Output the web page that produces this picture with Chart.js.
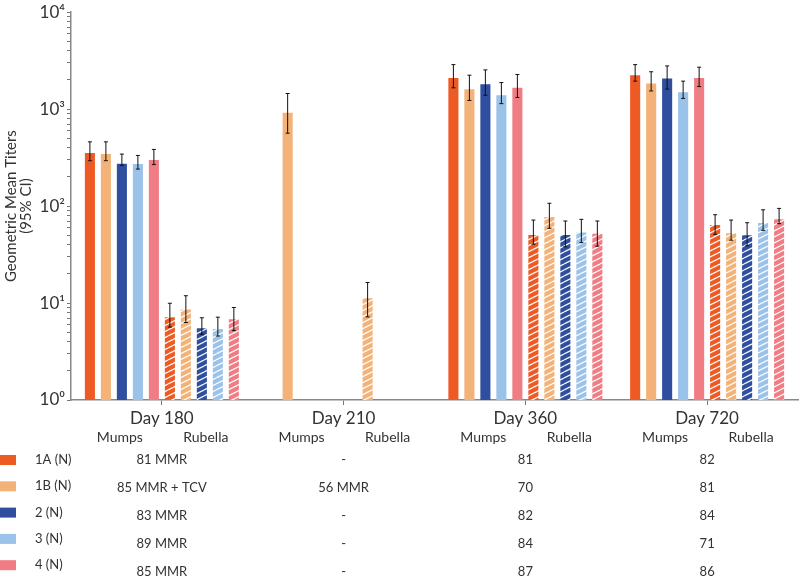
<!DOCTYPE html>
<html>
<head>
<meta charset="utf-8">
<script src="https://cdn.jsdelivr.net/npm/chart.js@4"></script>
<style>
  body { margin: 0; background: #fff; }
</style>
</head>
<body>
<canvas id="chart" width="800" height="577"></canvas>
<script>
const days = ["Day 180", "Day 210", "Day 360", "Day 720"];
const groups = ["1A (N)", "1B (N)", "2 (N)", "3 (N)", "4 (N)"];
const groupColors = ["#ee5a24", "#f3b277", "#2f4e9e", "#9bc2e8", "#f07c84"];

// geometric mean titers, one row per group, one column per day
const mumpsGmt = [
  [352, null, 2100, 2240],
  [344, 920, 1600, 1840],
  [274, null, 1810, 2070],
  [272, null, 1390, 1490],
  [298, null, 1660, 2090]
];
const mumpsLow = [
  [294, null, 1660, 1945],
  [294, 565, 1230, 1540],
  [263, null, 1390, 1610],
  [241, null, 1140, 1290],
  [268, null, 1320, 1710]
];
const mumpsHigh = [
  [460, null, 2880, 2880],
  [460, 1450, 2240, 2430],
  [344, null, 2540, 2790],
  [333, null, 1880, 1945],
  [384, null, 2280, 2710]
];
const rubellaGmt = [
  [7.15, null, 50.4, 63.8],
  [8.6, 11.2, 77, 52.5],
  [5.5, null, 50.4, 50],
  [5.4, null, 53.3, 66.9],
  [6.8, null, 52, 73]
];
const rubellaLow = [
  [5.65, null, 40.5, 51.2],
  [6.3, 7.2, 59, 44.5],
  [4.75, null, 38, 38.9],
  [4.57, null, 42, 56.3],
  [5.2, null, 38.6, 65.9]
];
const rubellaHigh = [
  [9.95, null, 71.8, 81.5],
  [11.9, 16.3, 107, 71.8],
  [7.05, null, 70.2, 67.4],
  [7.15, null, 73, 91.6],
  [9.0, null, 70.2, 94.7]
];

// N per group under each day
const nDay180 = ["81 MMR", "85 MMR + TCV", "83 MMR", "89 MMR", "85 MMR"];
const nDay210 = ["-", "56 MMR", "-", "-", "-"];
const nDay360 = ["81", "70", "82", "84", "87"];
const nDay720 = ["82", "81", "84", "71", "86"];
const nTable = [nDay180, nDay210, nDay360, nDay720];

const yTicks = [1, 10, 100, 1000, 10000];
const sup = ["\u2070", "\u00b9", "\u00b2", "\u00b3", "\u2074"];

const FONT = "Lato, 'Open Sans', sans-serif";
const TXT = "#333";

function hatch(color) {
  const c = document.createElement("canvas");
  c.width = 12; c.height = 6;
  const g = c.getContext("2d");
  g.fillStyle = color;
  g.fillRect(0, 0, 12, 6);
  g.strokeStyle = "rgba(255,255,255,0.95)";
  g.lineWidth = 1.3;
  for (const off of [-6, 0, 6]) {
    g.beginPath();
    g.moveTo(0, 6 + off);
    g.lineTo(12, 0 + off);
    g.stroke();
  }
  return g.createPattern(c, "repeat");
}

const datasets = [];
groups.forEach((g, i) => {
  datasets.push({
    label: g + " Mumps",
    data: mumpsGmt[i],
    low: mumpsLow[i],
    high: mumpsHigh[i],
    backgroundColor: groupColors[i]
  });
});
groups.forEach((g, i) => {
  datasets.push({
    label: g + " Rubella",
    data: rubellaGmt[i],
    low: rubellaLow[i],
    high: rubellaHigh[i],
    backgroundColor: hatch(groupColors[i])
  });
});

const errorBars = {
  id: "errorBars",
  afterDatasetsDraw(chart) {
    const ctx = chart.ctx;
    const y = chart.scales.y;
    ctx.save();
    ctx.strokeStyle = "#111";
    ctx.lineWidth = 1;
    chart.data.datasets.forEach((ds, i) => {
      chart.getDatasetMeta(i).data.forEach((bar, j) => {
        if (ds.data[j] == null) return;
        const x = bar.x;
        const top = y.getPixelForValue(ds.high[j]);
        const bot = y.getPixelForValue(ds.low[j]);
        ctx.beginPath();
        ctx.moveTo(x, top); ctx.lineTo(x, bot);
        ctx.moveTo(x - 2, top); ctx.lineTo(x + 2, top);
        ctx.moveTo(x - 2, bot); ctx.lineTo(x + 2, bot);
        ctx.stroke();
      });
    });
    ctx.restore();
  }
};

const tableBelow = {
  id: "tableBelow",
  afterDraw(chart) {
    const ctx = chart.ctx;
    const x = chart.scales.x;
    ctx.save();
    ctx.fillStyle = TXT;
    ctx.textAlign = "center";
    ctx.textBaseline = "middle";
    days.forEach((d, i) => {
      const cx = x.getPixelForValue(i);
      ctx.font = "17px " + FONT;
      ctx.fillText(d, cx, 419);
      ctx.font = "14px " + FONT;
      ctx.fillText("Mumps", cx - 42, 437);
      ctx.fillText("Rubella", cx + 44, 437);
      ctx.font = "13px " + FONT;
      nTable[i].forEach((t, r) => {
        ctx.fillText(t, cx, 460 + r * 28);
      });
    });
    ctx.textAlign = "left";
    ctx.font = "13px " + FONT;
    groups.forEach((g, r) => {
      const cy = 460 + r * 26.3;
      ctx.fillStyle = groupColors[r];
      ctx.fillRect(0, cy - 5, 16, 10);
      ctx.fillStyle = TXT;
      ctx.fillText(g, 35, cy);
    });
    ctx.restore();
  }
};

new Chart(document.getElementById("chart"), {
  type: "bar",
  data: { labels: days, datasets },
  options: {
    responsive: false,
    animation: false,
    layout: { padding: { top: 10, right: 2, left: 0, bottom: 0 } },
    datasets: {
      bar: { categoryPercentage: 0.88, barPercentage: 0.63 }
    },
    plugins: { legend: { display: false }, tooltip: { enabled: false } },
    scales: {
      x: {
        ticks: { display: false },
        grid: {
          offset: false,
          drawOnChartArea: false,
          tickLength: 5,
          tickColor: "#777"
        },
        border: { color: "#888", width: 1.5 },
        afterFit(s) { s.height = 177; }
      },
      y: {
        type: "logarithmic",
        min: 1,
        max: 10000,
        afterBuildTicks(s) {
          const t = [];
          for (let e = 0; e < 4; e++) {
            for (let k = 1; k < 10; k++) t.push({ value: k * Math.pow(10, e) });
          }
          t.push({ value: 10000 });
          s.ticks = t;
        },
        ticks: {
          autoSkip: false,
          padding: 2,
          color: TXT,
          font: { size: 17, family: FONT },
          callback(v) {
            const i = yTicks.indexOf(v);
            return i >= 0 ? "10" + sup[i] : "";
          }
        },
        grid: {
          drawOnChartArea: false,
          tickLength: 4,
          tickColor: "#777"
        },
        border: { color: "#888", width: 1.5 },
        title: {
          display: true,
          text: ["Geometric Mean Titers", "(95% CI)"],
          color: TXT,
          font: { size: 15, family: FONT, lineHeight: 1.0 },
          padding: { top: 4, bottom: 0 }
        },
        afterFit(s) { s.width = 71; }
      }
    }
  },
  plugins: [errorBars, tableBelow]
});
</script>
</body>
</html>
